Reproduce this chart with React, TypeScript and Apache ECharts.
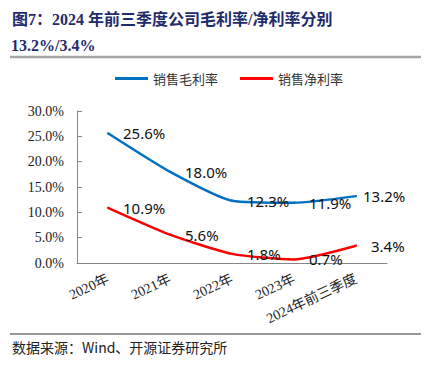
import React, { useEffect, useRef } from "react";
import * as echarts from "echarts";

const categories = ["2020年", "2021年", "2022年", "2023年", "2024年前三季度"];
const grossMargin = [25.6, 18.0, 12.3, 11.9, 13.2];
const netMargin = [10.9, 5.6, 1.8, 0.7, 3.4];
const seriesNames = ["销售毛利率", "销售净利率"];
const titleLine1 = "图7：2024 年前三季度公司毛利率/净利率分别";
const titleLine2 = "13.2%/3.4%";
const sourceText = "数据来源：Wind、开源证券研究所";

const SERIF = '"Liberation Serif", "Times New Roman", "Noto Sans CJK SC", serif';
const CJK = '"Noto Sans CJK SC", "Liberation Serif", serif';
const SANS = '"Noto Sans", "DejaVu Sans", sans-serif';

function mkData(vals: number[], lastDist: number) {
  return vals.map((v, i) => ({
    value: v,
    label: { distance: i === vals.length - 1 ? lastDist : 14 },
  }));
}

export default function App() {
  const ref = useRef<HTMLDivElement>(null);
  useEffect(() => {
    if (!ref.current) return;
    const chart = echarts.init(ref.current, null, { renderer: "svg" });
    const labelStyle = {
      show: true,
      position: "right" as const,
      formatter: (p: any) => Number(p.value).toFixed(1) + "%",
      fontFamily: SANS,
      fontSize: 15,
      color: "#111",
    };
    chart.setOption({
      animation: false,
      backgroundColor: "#fff",
      legend: {
        left: 110,
        top: 67,
        icon: "rect",
        itemWidth: 33,
        itemHeight: 3,
        itemGap: 22,
        data: seriesNames,
        textStyle: { fontFamily: CJK, fontSize: 13, color: "#333" },
      },
      grid: { left: 77, right: 48, top: 111, bottom: 106 },
      xAxis: {
        type: "category",
        data: categories,
        boundaryGap: true,
        axisLine: { lineStyle: { color: "#888", width: 1 } },
        axisTick: { inside: true, length: 5, lineStyle: { color: "#888" } },
        axisLabel: {
          rotate: 25,
          margin: 15,
          interval: 0,
          fontFamily: SERIF,
          fontSize: 14,
          color: "#222",
        },
      },
      yAxis: {
        type: "value",
        min: 0,
        max: 30,
        interval: 5,
        splitLine: { show: false },
        axisLine: { show: true, lineStyle: { color: "#888", width: 1 } },
        axisTick: { show: true, inside: true, length: 5, lineStyle: { color: "#888" } },
        axisLabel: {
          margin: 13,
          fontFamily: SERIF,
          fontSize: 14,
          color: "#222",
          formatter: (v: number) => v.toFixed(1) + "%",
        },
      },
      series: [
        {
          name: seriesNames[0],
          type: "line",
          smooth: 0.2,
          symbol: "circle",
          symbolSize: 2,
          showSymbol: true,
          data: mkData(grossMargin, 6),
          lineStyle: { color: "#0070C0", width: 2.5 },
          itemStyle: { color: "#0070C0" },
          label: labelStyle,
        },
        {
          name: seriesNames[1],
          type: "line",
          smooth: 0.2,
          symbol: "circle",
          symbolSize: 2,
          showSymbol: true,
          data: mkData(netMargin, 14),
          lineStyle: { color: "#FF0000", width: 2.5 },
          itemStyle: { color: "#FF0000" },
          label: labelStyle,
        },
      ],
      graphic: [
        {
          type: "text",
          x: 12,
          y: 19,
          style: {
            text: titleLine1,
            font: `bold 16px ${SERIF}`,
            fill: "#1F2C6B",
            textVerticalAlign: "middle",
          },
        },
        {
          type: "text",
          x: 11,
          y: 45,
          style: {
            text: titleLine2,
            font: `bold 16px ${SERIF}`,
            fill: "#1F2C6B",
            textVerticalAlign: "middle",
          },
        },
        {
          type: "line",
          shape: { x1: 10, y1: 57, x2: 421, y2: 57 },
          style: { stroke: "#A6A6A6", lineWidth: 2.5 },
        },
        {
          type: "line",
          shape: { x1: 10, y1: 334, x2: 421, y2: 334 },
          style: { stroke: "#333", lineWidth: 1 },
        },
        {
          type: "text",
          x: 12,
          y: 347,
          style: {
            text: sourceText,
            font: `14px ${CJK}`,
            fill: "#222",
            textVerticalAlign: "middle",
          },
        },
      ],
    });
    return () => chart.dispose();
  }, []);
  return <div ref={ref} style={{ width: 435, height: 369, position: "absolute", left: 0, top: 0 }} />;
}
